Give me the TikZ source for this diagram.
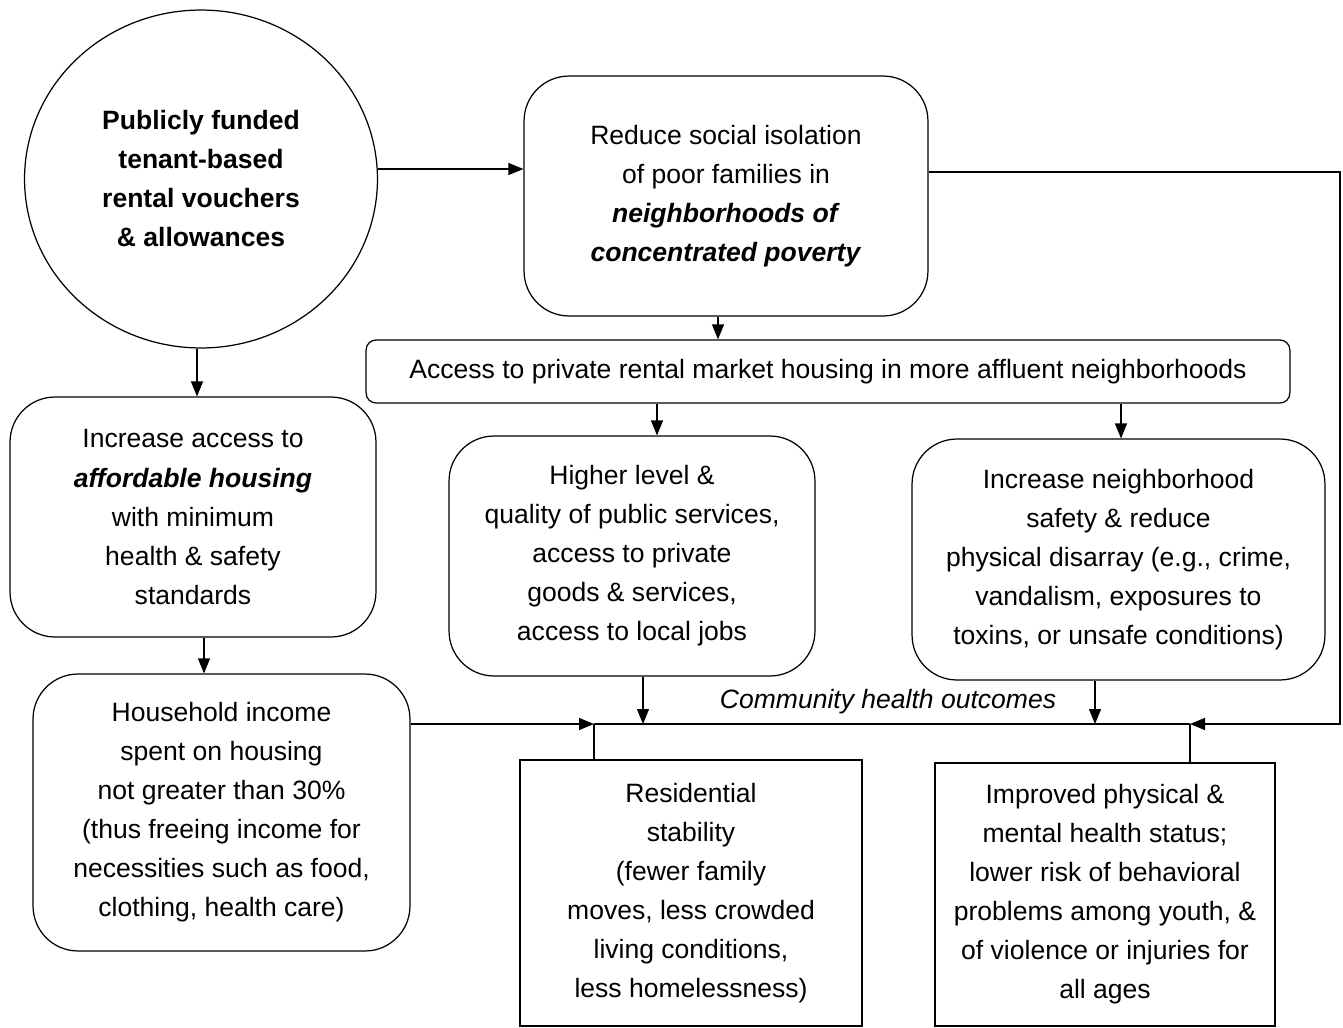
\documentclass[tikz,border=0pt]{standalone}
\usepackage{fontspec}
\setmainfont{Liberation Sans}
\usetikzlibrary{arrows.meta,shapes.geometric}

\tikzset{
  txt/.style={font=\fontsize{15.1}{22.2}\selectfont, align=center},
  rbox/.style={txt, draw, rounded corners=0.9cm, inner sep=0pt},
  sbox/.style={txt, draw, inner sep=0pt},
  arr/.style={-{Triangle[length=0.3cm,width=0.24cm]}},
}

\begin{document}
\begin{tikzpicture}[x=0.02cm, y=-0.02cm, line width=0.7pt]
  \useasboundingbox (0,0) rectangle (1343,1028);

  % top row
  \node[txt, draw, ellipse, minimum width=7.06cm, minimum height=6.76cm, font=\fontsize{15.1}{22.2}\selectfont\bfseries]
    (fund) at (201,179) {Publicly funded\\tenant-based\\rental vouchers\\\& allowances};
  \node[rbox, minimum width=8.08cm, minimum height=4.8cm] (isol) at (726,196)
    {Reduce social isolation\\of poor families in\\\textbf{\textit{neighborhoods of}}\\\textbf{\textit{concentrated poverty}}};

  % middle
  \node[rbox, rounded corners=0.2cm, minimum width=18.48cm, minimum height=1.26cm] (access) at (828,371.5)
    {Access to private rental market housing in more affluent neighborhoods};
  \node[rbox, minimum width=7.32cm, minimum height=4.8cm] (afford) at (193,517)
    {Increase access to\\\textbf{\textit{affordable housing}}\\with minimum\\health \& safety\\standards};
  \node[rbox, minimum width=7.32cm, minimum height=4.8cm] (higher) at (632,556)
    {Higher level \&\\quality of public services,\\access to private\\goods \& services,\\access to local jobs};
  \node[rbox, minimum width=8.26cm, minimum height=4.82cm] (safety) at (1118.5,559.5)
    {Increase neighborhood\\safety \& reduce\\physical disarray (e.g., crime,\\vandalism, exposures to\\toxins, or unsafe conditions)};

  % bottom row
  \node[rbox, minimum width=7.54cm, minimum height=5.54cm] (house) at (221.5,812.5)
    {Household income\\spent on housing\\not greater than 30\%\\(thus freeing income for\\necessities such as food,\\clothing, health care)};
  \node[sbox, minimum width=6.84cm, minimum height=5.32cm] (resid) at (691,893)
    {Residential\\stability\\(fewer family\\moves, less crowded\\living conditions,\\less homelessness)};
  \node[sbox, minimum width=6.8cm, minimum height=5.26cm] (health) at (1105,894.5)
    {Improved physical \&\\mental health status;\\lower risk of behavioral\\problems among youth, \&\\of violence or injuries for\\all ages};

  % outcome line
  \coordinate (j1) at (594,724);
  \coordinate (j2) at (1190,724);
  \coordinate (h1) at (643,724);
  \coordinate (h2) at (1095,724);
  \coordinate (far) at (1340,724);
  \node[txt, font=\fontsize{15.1}{22.2}\selectfont\itshape] (outc) at (888,702) {Community health outcomes};

  \draw[arr] ([yshift=0.2cm]fund.east) -- ([yshift=0.2cm]fund.east -| isol.west);
  \draw[arr] ([yshift=0.48cm]isol.east) -| (far) -- (j2);
  \draw[arr] (isol.south -| 718,0) -- (access.north -| 718,0);
  \draw[arr] (access.south -| 657,0) -- (higher.north -| 657,0);
  \draw[arr] (access.south -| 1121,0) -- (safety.north -| 1121,0);
  \draw[arr] (fund.south -| 197,0) -- (afford.north -| 197,0);
  \draw[arr] (afford.south -| 204,0) -- (house.north -| 204,0);
  \draw[arr] (house.east |- j1) -- (j1);
  \draw[arr] (higher.south -| h1) -- (h1);
  \draw[arr] (safety.south -| h2) -- (h2);
  \draw (j1) -- (j2);
  \draw (j1) -- (resid.north -| j1);
  \draw (j2) -- (health.north -| j2);
\end{tikzpicture}
\end{document}
